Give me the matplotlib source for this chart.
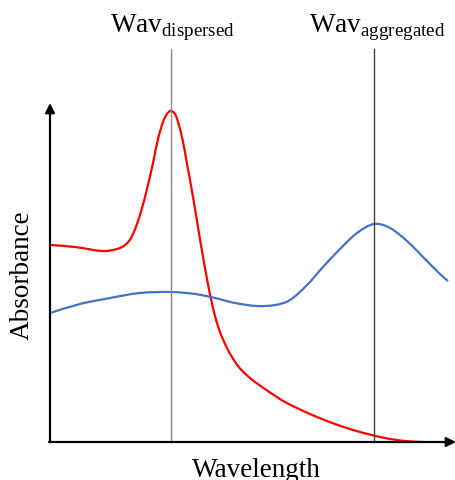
import matplotlib.pyplot as plt
from matplotlib.path import Path
from matplotlib.patches import PathPatch

plt.rcParams['font.family'] = ['Liberation Serif', 'DejaVu Serif']
plt.rcParams['mathtext.fontset'] = 'custom'
plt.rcParams['mathtext.rm'] = 'Liberation Serif'

# curves (x: wavelength, y: absorbance, arbitrary units)
red_x = [1, 25, 52, 67, 75, 81, 87, 92, 97, 103, 108, 113, 117, 121, 126,
         132, 137, 142, 147, 152, 157, 161, 165, 170, 178, 188, 200, 215,
         235, 260, 285, 310, 335, 355, 373]
red_y = [197, 195, 191, 193, 197, 204, 218, 234, 253, 279, 303, 320, 328,
         331, 326, 305, 278, 251, 221, 191, 163, 143, 126, 110, 92, 76, 64,
         53, 40, 28, 18, 10, 4, 1, 0]

blue_x = [0, 30, 60, 90, 121, 145, 165, 185, 207, 225, 240, 257, 273, 290,
          307, 324, 340, 357, 373, 390, 398]
blue_y = [129, 138, 144, 149, 150, 148, 144, 139, 136, 137, 142, 157, 175,
          193, 209, 218, 214, 201, 185, 168, 161]

peaks = [121, 324]
peak_labels = [r'Wav$_\mathrm{dispersed}$', r'Wav$_\mathrm{aggregated}$']
peak_colors = ['#888888', '#444444']


def smooth_path(xs, ys):
    # smoothed line like a spreadsheet's (cubic Bezier through the points)
    pts = list(zip(xs, ys))
    verts = [pts[0]]
    codes = [Path.MOVETO]
    for i in range(len(pts) - 1):
        p0 = pts[i - 1] if i > 0 else pts[i]
        p1 = pts[i]
        p2 = pts[i + 1]
        p3 = pts[i + 2] if i + 2 < len(pts) else pts[i + 1]
        c1 = (p1[0] + (p2[0] - p0[0]) / 6, p1[1] + (p2[1] - p0[1]) / 6)
        c2 = (p2[0] - (p3[0] - p1[0]) / 6, p2[1] - (p3[1] - p1[1]) / 6)
        verts += [c1, c2, p2]
        codes += [Path.CURVE4] * 3
    return Path(verts, codes)


fig = plt.figure(figsize=(4.56, 4.81), dpi=100)
ax = fig.add_axes([50 / 456, 38 / 481, 408 / 456, 338 / 481])
ax.set_xlim(0, 408)
ax.set_ylim(0, 338)
ax.axis('off')

for xp, col in zip(peaks, peak_colors):
    ax.plot([xp, xp], [0, 393], color=col, lw=1.0, clip_on=False)

ax.add_patch(PathPatch(smooth_path(red_x, red_y), facecolor='none',
                       edgecolor='#ff0000', lw=1.6, clip_on=False))
ax.add_patch(PathPatch(smooth_path(blue_x, blue_y), facecolor='none',
                       edgecolor='#4472c4', lw=1.6, clip_on=False))

# axes with arrow heads
ax.annotate('', xy=(0, 339), xytext=(0, 0),
            arrowprops=dict(arrowstyle='-|>', color='black', lw=1.6,
                            mutation_scale=14, shrinkA=0, shrinkB=0),
            annotation_clip=False)
ax.annotate('', xy=(406, 0), xytext=(-1, 0),
            arrowprops=dict(arrowstyle='-|>', color='black', lw=1.6,
                            mutation_scale=14, shrinkA=0, shrinkB=0),
            annotation_clip=False)

fig.text(172 / 456, (481 - 33) / 481, peak_labels[0], fontsize=19.5,
         ha='center', va='baseline')
fig.text(377 / 456, (481 - 33) / 481, peak_labels[1], fontsize=19.5,
         ha='center', va='baseline')
fig.text(256 / 456, 4 / 481, 'Wavelength', fontsize=19.5,
         ha='center', va='baseline')
fig.text(22 / 456, (481 - 275) / 481, 'Absorbance', fontsize=19.5,
         ha='center', va='center', rotation=90)

fig.savefig('out.png', dpi=100)
